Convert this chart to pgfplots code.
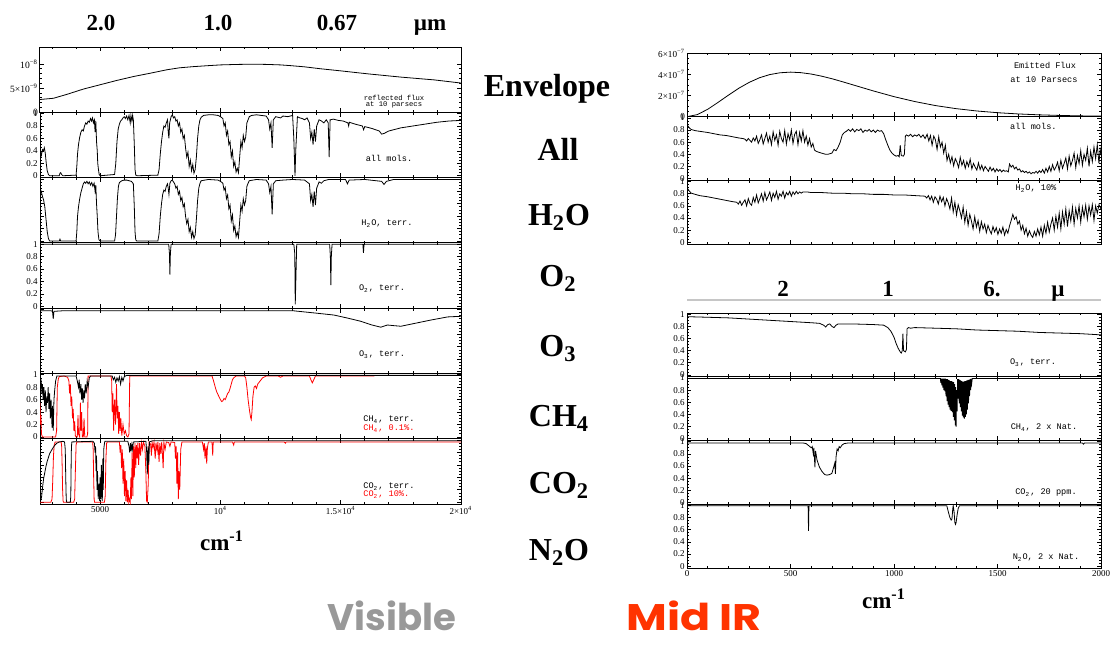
\documentclass[border=0pt]{standalone}
\usepackage{fontspec}
\setmainfont{Liberation Serif}
\newfontfamily\idl{Liberation Mono}
\newfontfamily\comic{Poppins}
\usepackage{pgfplots}
\pgfplotsset{compat=1.18}
\definecolor{midir}{RGB}{255,51,0}
\definecolor{visgray}{RGB}{153,153,153}
\newcommand{\ex}[1]{\textsuperscript{#1}}
\pgfplotsset{
 panel/.style={scale only axis, anchor=north west,
  scaled x ticks=false, scaled y ticks=false,
  axis line style={line width=0.5pt},
  every tick/.style={black, line width=0.35pt},
  major tick length=2.2pt, minor tick length=1.2pt,
  tick label style={font=\fontsize{4.5}{5}\selectfont, inner sep=1pt},
  ymin=-0.03, ymax=1.02,
  ytick={0,0.2,0.4,0.6,0.8,1}, yticklabels={0,0.2,0.4,0.6,0.8,1},
  minor y tick num=3, clip=true},
 leftp/.style={panel, xmin=2500, xmax=20000, width=210.5pt, height=32.65pt,
  xtick={5000,10000,15000,20000}, xticklabels={},
  minor xtick={3000,4000,6000,7000,8000,9000,11000,12000,13000,14000,16000,17000,18000,19000}},
 rightp/.style={panel, xmin=0, xmax=2000, width=207pt, height=31.85pt,
  xtick={0,500,1000,1500,2000}, xticklabels={},
  minor xtick={100,200,300,400,600,700,800,900,1100,1200,1300,1400,1600,1700,1800,1900}},
 ln/.style={black, line width=0.4pt, mark=none},
}
\begin{document}
\begin{tikzpicture}
\useasboundingbox (0,0) rectangle (555.5pt,-322.5pt);
% ================= LEFT =================
\begin{axis}[leftp, at={(20pt,-23.5pt)}, ymin=0, ymax=1.35, ytick={0,0.5,1},
  yticklabels={0,5×10\ex{−9},10\ex{−8}}, minor y tick num=4,
  yticklabel style={font=\fontsize{4.8}{5}\selectfont, inner sep=0.8pt}]
\addplot[ln] coordinates {(2500,0.265)(3056,0.29)(3611,0.37)(4300,0.48)(5000,0.57)(5700,0.66)(6389,0.74)(7100,0.81)(7778,0.88)(8300,0.92)(8889,0.945)(9500,0.965)(10000,0.98)(10700,0.99)(11389,0.995)(11944,0.99)(12500,0.98)(12917,0.965)(13500,0.94)(14167,0.90)(15000,0.857)(16111,0.796)(17500,0.728)(18889,0.67)(20000,0.605)};
\end{axis}
\begin{axis}[leftp, at={(20pt,-56.15pt)}]
\addplot[ln] coordinates {(2500,0.30)(2530,0.38)(2560,0.33)(2600,0.42)(2640,0.40)(2680,0.45)(2720,0.36)(2760,0.20)(2800,0.08)(2850,0.02)(2900,0)(3300,0)(3330,0.04)(3360,0.05)(3400,0.02)(3450,0)(4000,0.01)(4030,0.15)(4060,0.35)(4100,0.50)(4150,0.62)(4200,0.70)(4250,0.74)(4300,0.72)(4350,0.80)(4400,0.85)(4450,0.83)(4500,0.88)(4550,0.86)(4600,0.92)(4640,0.88)(4680,0.93)(4720,0.85)(4760,0.90)(4790,0.70)(4820,0.88)(4850,0.55)(4880,0.40)(4900,0.20)(4930,0.10)(4960,0.02)(5000,0)(5600,0.02)(5650,0.20)(5700,0.55)(5750,0.75)(5800,0.83)(5850,0.88)(5900,0.90)(5950,0.93)(6000,0.95)(6050,0.92)(6100,0.96)(6150,0.90)(6200,0.97)(6250,0.85)(6280,0.97)(6320,0.88)(6350,0.97)(6380,0.90)(6420,0.50)(6450,0.10)(6480,0.01)(6550,0)(7400,0.01)(7450,0.10)(7500,0.35)(7550,0.55)(7600,0.70)(7650,0.80)(7700,0.78)(7750,0.85)(7800,0.90)(7830,0.70)(7860,0.60)(7890,0.85)(7950,0.95)(8000,0.98)(8050,0.93)(8100,0.95)(8150,0.88)(8200,0.90)(8250,0.80)(8300,0.85)(8350,0.70)(8400,0.75)(8450,0.60)(8500,0.65)(8550,0.45)(8600,0.30)(8650,0.38)(8700,0.15)(8750,0.25)(8800,0.08)(8850,0.18)(8900,0.04)(8950,0.10)(9000,0.30)(9050,0.60)(9100,0.80)(9150,0.90)(9200,0.94)(9300,0.97)(9500,0.98)(9700,0.98)(9900,0.97)(10000,0.95)(10100,0.92)(10150,0.80)(10200,0.85)(10250,0.65)(10300,0.72)(10350,0.50)(10400,0.55)(10450,0.30)(10500,0.40)(10550,0.15)(10600,0.22)(10650,0.06)(10700,0.12)(10750,0.05)(10800,0.30)(10850,0.55)(10900,0.45)(10950,0.65)(11000,0.55)(11050,0.62)(11100,0.85)(11150,0.90)(11200,0.95)(11300,0.97)(11500,0.98)(11700,0.97)(11900,0.96)(12000,0.90)(12050,0.75)(12100,0.85)(12150,0.45)(12200,0.90)(12300,0.95)(12500,0.93)(12600,0.96)(12800,0.95)(13000,0.97)(13050,0.60)(13100,0)(13130,0.40)(13200,0.95)(13300,0.93)(13400,0.92)(13500,0.90)(13600,0.93)(13700,0.85)(13750,0.60)(13800,0.70)(13850,0.50)(13900,0.75)(13950,0.55)(14000,0.80)(14100,0.90)(14200,0.88)(14300,0.85)(14400,0.90)(14480,0.85)(14520,0.30)(14560,0.90)(14700,0.91)(14900,0.89)(15100,0.88)(15300,0.85)(15330,0.80)(15360,0.86)(15600,0.83)(15900,0.80)(15950,0.74)(16000,0.79)(16300,0.76)(16600,0.72)(16700,0.67)(16800,0.68)(17000,0.72)(17500,0.77)(18000,0.80)(18500,0.83)(19000,0.86)(19500,0.88)(20000,0.89)};
\end{axis}
\begin{axis}[leftp, at={(20pt,-88.8pt)}, yticklabels={}]
\addplot[ln] coordinates {(2500,0.85)(2550,0.80)(2600,0.72)(2650,0.66)(2700,0.55)(2750,0.35)(2800,0.15)(2850,0.04)(2900,0)(3300,0)(3330,0.03)(3360,0)(4000,0)(4030,0.15)(4060,0.40)(4100,0.55)(4150,0.68)(4200,0.78)(4250,0.85)(4300,0.92)(4350,0.95)(4400,0.93)(4450,0.96)(4500,0.92)(4550,0.95)(4600,0.90)(4650,0.94)(4700,0.88)(4750,0.93)(4790,0.80)(4820,0.90)(4850,0.60)(4880,0.40)(4910,0.15)(4950,0.02)(5000,0)(5600,0)(5640,0.10)(5680,0.40)(5720,0.70)(5760,0.88)(5800,0.94)(5900,0.97)(6000,0.98)(6100,0.98)(6200,0.97)(6300,0.96)(6380,0.92)(6420,0.55)(6450,0.15)(6480,0.02)(6520,0)(7400,0)(7450,0.12)(7500,0.40)(7550,0.60)(7600,0.75)(7650,0.82)(7700,0.80)(7750,0.88)(7800,0.92)(7830,0.85)(7860,0.75)(7900,0.93)(7950,0.97)(8000,0.98)(8050,0.95)(8100,0.92)(8150,0.85)(8200,0.88)(8250,0.75)(8300,0.80)(8350,0.65)(8400,0.70)(8450,0.55)(8500,0.60)(8550,0.40)(8600,0.28)(8650,0.35)(8700,0.15)(8750,0.22)(8800,0.06)(8850,0.15)(8900,0.04)(8950,0.10)(9000,0.35)(9050,0.65)(9100,0.85)(9150,0.93)(9200,0.97)(9500,0.99)(9900,0.98)(10000,0.96)(10100,0.93)(10150,0.82)(10200,0.86)(10250,0.68)(10300,0.74)(10350,0.52)(10400,0.58)(10450,0.32)(10500,0.42)(10550,0.17)(10600,0.24)(10650,0.07)(10700,0.14)(10750,0.06)(10800,0.32)(10850,0.58)(10900,0.48)(10950,0.68)(11000,0.58)(11050,0.65)(11100,0.88)(11150,0.93)(11200,0.97)(11500,0.99)(11900,0.98)(12000,0.92)(12050,0.78)(12100,0.88)(12150,0.43)(12200,0.92)(12300,0.97)(12600,0.98)(13000,0.99)(13500,0.98)(13700,0.92)(13750,0.65)(13800,0.75)(13850,0.55)(13900,0.80)(13950,0.58)(14000,0.85)(14100,0.95)(14200,0.93)(14300,0.97)(14500,0.99)(15200,0.99)(15280,0.92)(15350,0.98)(16000,0.99)(16700,0.96)(16800,0.91)(16900,0.96)(17200,0.99)(20000,0.99)};
\end{axis}
\begin{axis}[leftp, at={(20pt,-121.45pt)}]
\addplot[ln] coordinates {(2500,1)(7850,1)(7880,0.85)(7900,0.51)(7920,0.85)(7950,1)(13050,1)(13090,0.85)(13110,0.03)(13140,0.5)(13170,1)(14540,1)(14570,0.8)(14590,0.34)(14610,0.8)(14640,1)(15920,1)(15945,0.86)(15970,1)(20000,1)};
\end{axis}
\begin{axis}[leftp, at={(20pt,-154.1pt)}, yticklabels={}]
\addplot[ln] coordinates {(2500,0.98)(2950,0.98)(3020,0.97)(3050,0.85)(3080,0.97)(3500,0.98)(13000,0.98)(13500,0.96)(14000,0.94)(14722,0.91)(15300,0.86)(15833,0.81)(16300,0.75)(16667,0.715)(16944,0.75)(17200,0.74)(17500,0.73)(18000,0.77)(18750,0.83)(19444,0.88)(20000,0.89)};
\end{axis}
\begin{axis}[leftp, at={(20pt,-186.75pt)}]
\addplot[red, line width=0.4pt] coordinates {(2500,0.55)(2520,0.20)(2540,0.35)(2560,0.05)(2600,0)(3150,0)(3190,0.10)(3220,0.80)(3260,0.93)(3300,0.97)(3500,0.98)(3650,0.96)(3700,0.90)(3730,0.70)(3760,0.85)(3790,0.50)(3820,0.65)(3850,0.30)(3880,0.45)(3910,0.10)(3940,0.25)(3970,0.02)(4000,0)(4050,0)(4080,0.35)(4100,0.05)(4150,0)(4180,0.55)(4200,0.10)(4230,0.40)(4260,0)(4300,0)(4330,0.30)(4360,0)(4450,0)(4480,0.05)(4500,0.98)(5450,0.98)(5480,0.90)(5500,0.40)(5530,0.70)(5560,0.10)(5600,0.60)(5640,0.20)(5680,0.85)(5710,0.30)(5740,0.50)(5770,0.05)(5800,0.40)(5830,0.10)(5860,0.30)(5900,0.02)(5950,0.20)(6000,0.05)(6050,0.10)(6100,0.02)(6150,0)(6200,0.05)(6230,0.98)(9650,0.98)(9700,0.92)(9750,0.85)(9800,0.78)(9850,0.72)(9900,0.68)(9950,0.64)(10000,0.60)(10050,0.57)(10100,0.58)(10150,0.62)(10200,0.60)(10250,0.65)(10300,0.70)(10350,0.72)(10400,0.78)(10450,0.85)(10500,0.92)(10550,0.95)(10650,0.98)(11000,0.98)(11050,0.95)(11100,0.80)(11150,0.60)(11200,0.45)(11250,0.32)(11280,0.28)(11310,0.40)(11350,0.65)(11400,0.80)(11450,0.82)(11500,0.78)(11550,0.85)(11650,0.90)(11750,0.95)(11900,0.98)(12400,0.98)(12500,0.96)(12600,0.98)(13700,0.98)(13760,0.92)(13820,0.87)(13880,0.92)(13950,0.98)(16100,0.98)(16400,0.98)};
\addplot[ln] coordinates {(2500,0.98)(2550,0.90)(2580,0.70)(2600,0.85)(2630,0.60)(2660,0.80)(2690,0.50)(2720,0.75)(2750,0.40)(2780,0.65)(2810,0.55)(2840,0.80)(2870,0.45)(2900,0.70)(2930,0.30)(2960,0.60)(3000,0.15)(3020,0.50)(3050,0.10)(3080,0.60)(3110,0.75)(3150,0.90)(3200,0.98)(4000,0.98)(4050,0.90)(4100,0.80)(4130,0.92)(4160,0.70)(4200,0.85)(4230,0.60)(4260,0.78)(4290,0.55)(4320,0.75)(4350,0.62)(4380,0.85)(4420,0.70)(4460,0.90)(4500,0.80)(4550,0.95)(4600,0.98)(5500,0.98)(5550,0.92)(5600,0.96)(5650,0.88)(5700,0.95)(5750,0.90)(5800,0.97)(5850,0.85)(5900,0.96)(5950,0.90)(6000,0.97)(6100,0.99)(20000,0.99)};
\end{axis}
\begin{axis}[leftp, at={(20pt,-219.4pt)}, yticklabels={},
  xticklabels={5000,10\ex{4},1.5×10\ex{4},2×10\ex{4}}]
\addplot[red, line width=0.4pt] coordinates {(2500,0)(2950,0)(3000,0.05)(3030,0.35)(3060,0.75)(3090,0.92)(3130,0.97)(3380,0.97)(3400,0.90)(3420,0.60)(3440,0.20)(3460,0.02)(3480,0)(3900,0)(3940,0.05)(3970,0.50)(4000,0.92)(4030,0.97)(4690,0.97)(4710,0.85)(4730,0.40)(4750,0.05)(4770,0)(5180,0)(5210,0.10)(5240,0.70)(5270,0.95)(5300,0.97)(5800,0.97)(5830,0.80)(5860,0.92)(5890,0.55)(5920,0.85)(5950,0.30)(5980,0.70)(6010,0.10)(6040,0.50)(6070,0.02)(6100,0.35)(6130,0)(6160,0.20)(6190,0)(6220,0.05)(6250,0)(6280,0.40)(6300,0.05)(6330,0.80)(6360,0.10)(6390,0.90)(6420,0.40)(6450,0.95)(6480,0.55)(6510,0.92)(6540,0.70)(6570,0.96)(6600,0.60)(6640,0.95)(6680,0.75)(6720,0.96)(6760,0.85)(6800,0.97)(6860,0.90)(6900,0.50)(6930,0.02)(6960,0)(7000,0.30)(7030,0.97)(7100,0.93)(7130,0.75)(7160,0.96)(7200,0.88)(7240,0.97)(7290,0.70)(7320,0.96)(7370,0.82)(7400,0.97)(7450,0.65)(7480,0.95)(7520,0.78)(7560,0.97)(7620,0.55)(7650,0.96)(7700,0.85)(7750,0.97)(7850,0.96)(7900,0.90)(7950,0.97)(8100,0.96)(8130,0.70)(8160,0.90)(8190,0.30)(8220,0.80)(8250,0.05)(8280,0.50)(8310,0.20)(8350,0.85)(8400,0.97)(9250,0.97)(9300,0.85)(9330,0.95)(9360,0.70)(9400,0.90)(9430,0.62)(9460,0.88)(9500,0.97)(9650,0.97)(9680,0.75)(9700,0.97)(10500,0.97)(10550,0.92)(10580,0.97)(12650,0.97)(12700,0.95)(12730,0.97)(20000,0.97)};
\addplot[ln] coordinates {(2500,0.02)(2540,0.04)(2570,0.10)(2600,0.22)(2650,0.38)(2700,0.48)(2750,0.58)(2800,0.66)(2850,0.72)(2900,0.78)(3000,0.85)(3100,0.91)(3200,0.95)(3300,0.97)(3450,0.98)(3520,0.97)(3550,0.85)(3570,0.40)(3590,0.05)(3610,0)(3760,0)(3780,0.10)(3800,0.80)(3820,0.97)(4700,0.98)(4760,0.95)(4790,0.80)(4810,0.90)(4830,0.50)(4850,0.75)(4870,0.20)(4890,0.50)(4920,0.05)(4950,0.30)(4980,0.02)(5000,0.40)(5020,0.05)(5050,0.60)(5070,0.10)(5090,0.02)(5110,0.70)(5130,0.20)(5150,0.85)(5180,0.95)(5200,0.98)(6150,0.98)(6200,0.90)(6230,0.80)(6260,0.95)(6290,0.82)(6320,0.93)(6350,0.85)(6380,0.97)(6900,0.98)(6930,0.85)(6960,0.45)(6990,0.90)(7020,0.60)(7050,0.97)(7200,0.99)(20000,0.99)};
\end{axis}
% ================= RIGHT TOP =================
\begin{axis}[rightp, at={(343.5pt,-26.5pt)}, ymin=0, ymax=6, ytick={0,2,4,6},
  yticklabels={0,2×10\ex{−7},4×10\ex{−7},6×10\ex{−7}}, minor y tick num=3,
  yticklabel style={font=\fontsize{4.6}{5}\selectfont, inner sep=0.8pt}]
\addplot[ln] coordinates {(0,0)(50,0.20)(100,0.70)(150,1.35)(200,2.03)(250,2.68)(300,3.23)(350,3.67)(400,3.97)(450,4.14)(500,4.20)(550,4.15)(600,4.02)(650,3.82)(700,3.58)(750,3.30)(800,3.01)(900,2.43)(1000,1.89)(1100,1.43)(1200,1.05)(1300,0.76)(1400,0.54)(1500,0.378)(1600,0.261)(1700,0.178)(1800,0.120)(1900,0.080)(2000,0.053)};
\end{axis}
\begin{axis}[rightp, at={(343.5pt,-58.35pt)}]
\addplot[ln] coordinates {(0,0.89)(10,0.84)(20,0.81)(40,0.79)(60,0.78)(80,0.77)(100,0.76)(130,0.74)(160,0.72)(190,0.71)(220,0.69)(250,0.67)(270,0.66)(280,0.65)(288,0.62)(296,0.66)(304,0.63)(312,0.60)(320,0.67)(328,0.62)(336,0.70)(344,0.58)(352,0.64)(360,0.72)(368,0.57)(376,0.66)(384,0.75)(392,0.60)(400,0.70)(408,0.56)(416,0.77)(424,0.63)(432,0.72)(440,0.55)(448,0.78)(456,0.66)(464,0.60)(472,0.79)(480,0.57)(488,0.74)(496,0.64)(504,0.80)(512,0.58)(520,0.73)(528,0.78)(536,0.56)(544,0.76)(552,0.62)(560,0.79)(568,0.60)(576,0.70)(584,0.55)(592,0.66)(600,0.52)(608,0.58)(616,0.47)(624,0.45)(632,0.44)(640,0.43)(650,0.42)(660,0.41)(670,0.40)(680,0.40)(690,0.41)(700,0.42)(710,0.48)(720,0.46)(730,0.52)(740,0.60)(750,0.72)(760,0.76)(770,0.78)(780,0.81)(790,0.78)(800,0.82)(810,0.77)(820,0.81)(830,0.79)(840,0.82)(850,0.76)(860,0.80)(870,0.78)(880,0.81)(890,0.77)(900,0.80)(910,0.76)(920,0.80)(930,0.78)(940,0.79)(950,0.74)(960,0.64)(970,0.55)(980,0.47)(990,0.42)(1000,0.39)(1010,0.37)(1020,0.38)(1025,0.36)(1030,0.55)(1035,0.38)(1045,0.37)(1050,0.40)(1055,0.70)(1060,0.72)(1070,0.70)(1080,0.73)(1090,0.69)(1100,0.72)(1110,0.70)(1120,0.73)(1130,0.68)(1140,0.72)(1150,0.66)(1160,0.73)(1168,0.62)(1176,0.71)(1184,0.55)(1192,0.70)(1200,0.64)(1208,0.48)(1216,0.69)(1224,0.52)(1232,0.60)(1240,0.42)(1248,0.55)(1256,0.30)(1264,0.40)(1272,0.26)(1280,0.36)(1288,0.21)(1296,0.33)(1304,0.27)(1312,0.18)(1320,0.35)(1328,0.22)(1336,0.30)(1344,0.17)(1352,0.28)(1360,0.20)(1368,0.32)(1376,0.16)(1384,0.25)(1392,0.19)(1400,0.14)(1408,0.26)(1416,0.15)(1424,0.22)(1432,0.13)(1440,0.20)(1448,0.16)(1456,0.12)(1464,0.19)(1472,0.13)(1480,0.17)(1488,0.11)(1496,0.16)(1504,0.12)(1512,0.15)(1520,0.11)(1528,0.14)(1536,0.12)(1544,0.13)(1552,0.11)(1558,0.24)(1566,0.19)(1574,0.22)(1582,0.16)(1590,0.19)(1598,0.14)(1606,0.16)(1614,0.11)(1622,0.13)(1630,0.10)(1638,0.12)(1646,0.09)(1654,0.11)(1662,0.08)(1670,0.10)(1678,0.09)(1686,0.12)(1694,0.09)(1702,0.13)(1710,0.10)(1718,0.15)(1726,0.09)(1734,0.17)(1742,0.11)(1750,0.20)(1758,0.12)(1766,0.23)(1774,0.14)(1782,0.19)(1790,0.27)(1798,0.13)(1806,0.30)(1814,0.17)(1822,0.25)(1830,0.34)(1838,0.16)(1846,0.37)(1854,0.21)(1862,0.30)(1870,0.42)(1878,0.18)(1886,0.38)(1894,0.25)(1902,0.46)(1910,0.22)(1918,0.40)(1926,0.30)(1934,0.50)(1942,0.20)(1950,0.45)(1958,0.28)(1966,0.52)(1974,0.33)(1982,0.56)(1990,0.25)(1996,0.48)(2000,0.40)};
\end{axis}
\begin{axis}[rightp, at={(343.5pt,-90.2pt)}]
\addplot[ln] coordinates {(0,0.90)(10,0.85)(20,0.81)(40,0.79)(60,0.77)(80,0.76)(100,0.75)(130,0.73)(160,0.71)(190,0.69)(220,0.67)(240,0.66)(248,0.63)(256,0.68)(264,0.61)(272,0.66)(280,0.70)(288,0.60)(296,0.72)(304,0.64)(312,0.61)(320,0.74)(328,0.66)(336,0.78)(344,0.65)(352,0.72)(360,0.80)(368,0.68)(376,0.82)(384,0.70)(392,0.76)(400,0.83)(408,0.69)(416,0.81)(424,0.74)(432,0.84)(440,0.71)(448,0.80)(456,0.76)(464,0.84)(472,0.73)(480,0.82)(488,0.78)(496,0.84)(504,0.76)(512,0.83)(520,0.79)(528,0.84)(536,0.80)(544,0.83)(552,0.81)(560,0.83)(580,0.83)(600,0.82)(650,0.82)(700,0.81)(750,0.81)(800,0.80)(850,0.80)(900,0.79)(950,0.79)(1000,0.78)(1050,0.78)(1100,0.77)(1150,0.76)(1158,0.73)(1166,0.77)(1174,0.70)(1182,0.76)(1190,0.66)(1198,0.75)(1206,0.71)(1214,0.63)(1222,0.76)(1230,0.67)(1238,0.74)(1246,0.60)(1254,0.72)(1262,0.65)(1270,0.55)(1278,0.73)(1286,0.50)(1294,0.66)(1302,0.45)(1310,0.62)(1318,0.52)(1326,0.40)(1334,0.58)(1342,0.33)(1350,0.50)(1358,0.28)(1366,0.46)(1374,0.35)(1382,0.22)(1390,0.42)(1398,0.25)(1406,0.36)(1414,0.18)(1422,0.34)(1430,0.22)(1438,0.30)(1446,0.16)(1454,0.28)(1462,0.20)(1470,0.14)(1478,0.26)(1486,0.17)(1494,0.24)(1502,0.13)(1510,0.22)(1518,0.15)(1526,0.25)(1534,0.12)(1542,0.21)(1550,0.15)(1558,0.27)(1566,0.36)(1574,0.46)(1582,0.38)(1590,0.42)(1598,0.30)(1606,0.35)(1614,0.20)(1622,0.28)(1630,0.14)(1638,0.23)(1646,0.10)(1654,0.19)(1662,0.12)(1670,0.08)(1678,0.18)(1686,0.10)(1694,0.22)(1702,0.12)(1710,0.25)(1718,0.10)(1726,0.28)(1734,0.15)(1742,0.33)(1750,0.17)(1758,0.30)(1766,0.40)(1774,0.20)(1782,0.43)(1790,0.25)(1798,0.48)(1806,0.22)(1814,0.50)(1822,0.30)(1830,0.55)(1838,0.26)(1846,0.52)(1854,0.35)(1862,0.58)(1870,0.30)(1878,0.56)(1886,0.40)(1894,0.60)(1902,0.33)(1910,0.58)(1918,0.42)(1926,0.61)(1934,0.38)(1942,0.60)(1950,0.45)(1958,0.62)(1966,0.36)(1974,0.60)(1982,0.48)(1990,0.62)(2000,0.55)};
\end{axis}
% ================= RIGHT BOTTOM =================
\begin{axis}[rightp, height=31.875pt, at={(343.5pt,-156.5pt)}]
\addplot[ln] coordinates {(0,0.96)(100,0.95)(200,0.94)(300,0.92)(400,0.90)(500,0.88)(600,0.86)(640,0.85)(660,0.82)(670,0.79)(680,0.83)(690,0.84)(700,0.80)(710,0.78)(720,0.82)(730,0.84)(800,0.84)(900,0.83)(950,0.82)(970,0.78)(985,0.72)(1000,0.62)(1010,0.52)(1020,0.44)(1030,0.38)(1035,0.36)(1040,0.40)(1043,0.68)(1046,0.40)(1055,0.38)(1060,0.42)(1063,0.76)(1070,0.78)(1080,0.77)(1100,0.78)(1200,0.77)(1300,0.76)(1400,0.74)(1500,0.73)(1600,0.72)(1700,0.70)(1800,0.69)(1900,0.68)(2000,0.66)};
\end{axis}
\begin{axis}[rightp, height=31.875pt, at={(343.5pt,-188.375pt)}]
\addplot[ln] coordinates {(0,0.99)(1222,0.99)(1224,0.99)(1226,0.92)(1228,0.99)(1231,0.88)(1233,0.99)(1236,0.84)(1238,0.99)(1241,0.80)(1243,0.99)(1246,0.78)(1248,0.99)(1251,0.70)(1253,0.98)(1256,0.62)(1258,0.98)(1261,0.56)(1263,0.97)(1266,0.52)(1268,0.96)(1271,0.48)(1273,0.95)(1276,0.46)(1278,0.95)(1281,0.44)(1283,0.94)(1286,0.36)(1288,0.93)(1291,0.30)(1293,0.90)(1296,0.22)(1298,0.85)(1300,0.20)(1302,0.80)(1305,0.45)(1307,0.98)(1310,0.66)(1312,0.98)(1315,0.58)(1317,0.97)(1320,0.52)(1322,0.96)(1325,0.45)(1327,0.95)(1330,0.38)(1332,0.94)(1335,0.35)(1337,0.94)(1340,0.33)(1342,0.95)(1345,0.36)(1347,0.95)(1350,0.40)(1352,0.96)(1355,0.48)(1357,0.97)(1360,0.58)(1362,0.97)(1365,0.70)(1367,0.98)(1370,0.80)(1372,0.99)(1375,0.90)(1378,0.99)(2000,0.99)};
\end{axis}
\begin{axis}[rightp, height=31.875pt, at={(343.5pt,-220.25pt)}]
\addplot[ln] coordinates {(0,0.98)(560,0.98)(575,0.97)(590,0.93)(600,0.90)(605,0.92)(610,0.80)(613,0.90)(618,0.58)(621,0.85)(628,0.70)(640,0.58)(652,0.51)(665,0.46)(676,0.45)(690,0.46)(700,0.48)(710,0.60)(714,0.65)(717,0.47)(720,0.75)(725,0.88)(730,0.85)(735,0.92)(740,0.90)(750,0.95)(760,0.97)(780,0.98)(1910,0.98)(1915,0.96)(1920,0.98)(2000,0.98)};
\end{axis}
\begin{axis}[rightp, height=31.875pt, at={(343.5pt,-252.125pt)}, xticklabels={0,500,1000,1500,2000}]
\addplot[ln] coordinates {(0,0.995)(585,0.995)(587,0.58)(589,0.995)(1255,0.995)(1262,0.90)(1270,0.80)(1276,0.76)(1280,0.78)(1284,0.95)(1286,0.995)(1290,0.90)(1294,0.72)(1297,0.69)(1300,0.72)(1305,0.85)(1310,0.95)(1316,0.995)(2000,0.995)};
\end{axis}
% ================= TEXT =================
\draw[gray!45, line width=0.8pt] (343.5pt,-150pt) -- (550.5pt,-150pt);
\begin{scope}[every node/.style={inner sep=0pt, font=\fontsize{11.5}{12}\selectfont\bfseries}]
\node[anchor=base] at (50.5pt,-15pt) {2.0};
\node[anchor=base] at (109pt,-15pt) {1.0};
\node[anchor=base] at (168.5pt,-15pt) {0.67};
\node[anchor=base] at (215pt,-15pt) {µm};
\node[anchor=base] at (391.5pt,-148.3pt) {2};
\node[anchor=base] at (444pt,-148.3pt) {1};
\node[anchor=base] at (496pt,-148.3pt) {6.};
\node[anchor=base] at (529pt,-148.3pt) {µ};
\node[anchor=base] at (111pt,-275pt) {cm\textsuperscript{-1}};
\node[anchor=base] at (442pt,-304pt) {cm\textsuperscript{-1}};
\end{scope}
\begin{scope}[every node/.style={inner sep=0pt, anchor=base, font=\fontsize{16}{17}\selectfont\bfseries}]
\node at (273.5pt,-48.3pt) {Envelope};
\node at (279pt,-80pt) {All};
\node at (279.5pt,-112.8pt) {H\textsubscript{2}O};
\node at (279pt,-143.3pt) {O\textsubscript{2}};
\node at (279pt,-178.3pt) {O\textsubscript{3}};
\node at (279.5pt,-213.3pt) {CH\textsubscript{4}};
\node at (279.5pt,-246.7pt) {CO\textsubscript{2}};
\node at (279.5pt,-280pt) {N\textsubscript{2}O};
\end{scope}
\node[anchor=base, inner sep=0pt, text=visgray, font=\comic\bfseries\fontsize{18.5}{19}\selectfont] at (196pt,-315pt) {Visible};
\node[anchor=base, inner sep=0pt, text=midir, font=\comic\bfseries\fontsize{18.5}{19}\selectfont] at (347pt,-315pt) {\scalebox{1.2}[1]{Mid IR}};
\begin{scope}[every node/.style={inner sep=0pt, font=\idl\fontsize{4.3}{4.5}\selectfont}]
\node[anchor=base, font=\idl\fontsize{3.6}{4}\selectfont] at (197pt,-50pt) {reflected flux};
\node[anchor=base, font=\idl\fontsize{3.6}{4}\selectfont] at (197pt,-53.3pt) {at 10 parsecs};
\node[anchor=base] at (194.5pt,-80.5pt) {all mols.};
\node[anchor=base] at (193.5pt,-112.5pt) {H\textsubscript{2}O, terr.};
\node[anchor=base] at (191pt,-145.3pt) {O\textsubscript{2}, terr.};
\node[anchor=base] at (191pt,-178.3pt) {O\textsubscript{3}, terr.};
\node[anchor=base west] at (181.5pt,-210.8pt) {CH\textsubscript{4}, terr.};
\node[anchor=base west, text=red] at (181.5pt,-215pt) {CH\textsubscript{4}, 0.1\%.};
\node[anchor=base west] at (181.5pt,-244.2pt) {CO\textsubscript{2}, terr.};
\node[anchor=base west, text=red] at (181.5pt,-248.3pt) {CO\textsubscript{2}, 10\%.};
\node[anchor=base] at (522.5pt,-34.2pt) {Emitted Flux};
\node[anchor=base] at (522pt,-41.3pt) {at 10 Parsecs};
\node[anchor=base] at (516.7pt,-64.7pt) {all mols.};
\node[anchor=base] at (518pt,-95.3pt) {H\textsubscript{2}O, 10\%};
\node[anchor=base] at (516.5pt,-182pt) {O\textsubscript{3}, terr.};
\node[anchor=base] at (522pt,-214.7pt) {CH\textsubscript{4}, 2 x Nat.};
\node[anchor=base] at (523pt,-247pt) {CO\textsubscript{2}, 20 ppm.};
\node[anchor=base] at (523pt,-279.7pt) {N\textsubscript{2}O, 2 x Nat.};
\end{scope}
\end{tikzpicture}
\end{document}
